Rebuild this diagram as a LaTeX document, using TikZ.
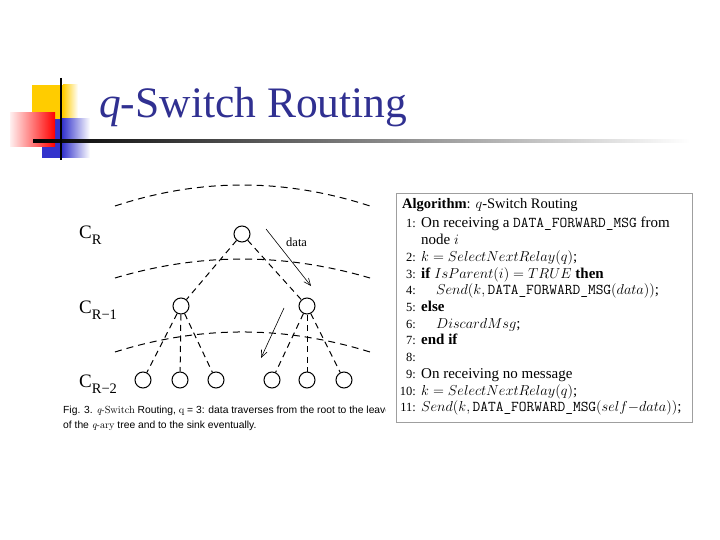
\documentclass[tikz,border=0pt]{standalone}
\usepackage{amsmath}
\usepackage{fontspec}
\newfontfamily\titlefont{Liberation Serif}
\newfontfamily\capfont{Liberation Sans}
\usepackage{tikz}
\usetikzlibrary{positioning,arrows.meta}
\definecolor{titleblue}{RGB}{48,48,145}
\definecolor{decoyellow}{RGB}{255,204,0}
\definecolor{decoblue}{RGB}{51,51,204}

\begin{document}
\begin{tikzpicture}[
    x=1pt, y=-1pt,
    >={Straight Barb[length=7pt,width=6pt]},
    vertex/.style={
        circle,
        draw=black,
        line width=1pt,
        minimum size=16pt,
        inner sep=0pt
    },
    edge/.style={
        line width=1pt,
        dash pattern=on 6pt off 4.5pt
    },
    level/.style={
        line width=1pt,
        dash pattern=on 7pt off 5pt
    },
    flow/.style={->, line width=0.6pt},
    cname/.style={anchor=base west, inner sep=0pt, font=\titlefont\fontsize{19}{19}\selectfont},
    algtext/.style={anchor=base west, inner sep=0pt, font=\titlefont\fontsize{15}{16}\selectfont},
    algnum/.style={anchor=base east, inner sep=0pt, font=\titlefont\fontsize{12.5}{13}\selectfont}
]
\useasboundingbox (0,0) rectangle (720,540);

% slide title with its decoration
\fill[decoyellow] (32,85) rectangle (63,120);
\shade[left color=decoyellow, right color=white] (63,85) rectangle (78,120);
\fill[decoblue] (42,119) rectangle (62,158);
\shade[left color=decoblue, right color=white] (62,119) rectangle (90,158);
\shade[left color=red!6, right color=red] (10,113) rectangle (55,147);
\shade[left color=black, middle color=gray!55, right color=white] (33,139.8) rectangle (690,142.2);
\draw[line width=2.4pt] (61,78) -- (61,160);
\node[anchor=base west, inner sep=0pt, text=titleblue,
      font=\titlefont\fontsize{43.5}{44}\selectfont] (title) at (99,118) {\textit{q}-Switch Routing};

% the three layers
\draw[level] (115,206) .. controls (200,178) and (284,178) .. (370,206);
\draw[level] (115,278) .. controls (200,252.7) and (284,252.7) .. (370,278);
\draw[level] (115,352) .. controls (200,325.3) and (284,325.3) .. (370,352);

\node[cname] (cR)  at (79,238) {C\raisebox{-6pt}{\fontsize{14.5}{14.5}\selectfont R}};
\node[cname] (cR1) at (79,313) {C\raisebox{-6pt}{\fontsize{14.5}{14.5}\selectfont R−1}};
\node[cname] (cR2) at (79,387) {C\raisebox{-6pt}{\fontsize{14.5}{14.5}\selectfont R−2}};

% the q-ary tree
\node[vertex] (root) at (242,234) {};
\node[vertex] (left) at (181,306) {};
\node[vertex] (right) at (307,306) {};
\node[vertex] (leafa) at (143,380) {};
\node[vertex] (leafb) at (180,380) {};
\node[vertex] (leafc) at (216,380) {};
\node[vertex] (leafd) at (272,380) {};
\node[vertex] (leafe) at (307,380) {};
\node[vertex] (leaff) at (344,380) {};

\draw[edge] (root) -- (left);
\draw[edge] (root) -- (right);
\draw[edge] (left) -- (leafa);
\draw[edge] (left) -- (leafb);
\draw[edge] (left) -- (leafc);
\draw[edge] (right) -- (leafd);
\draw[edge] (right) -- (leafe);
\draw[edge] (right) -- (leaff);

% data going down
\coordinate (dataA) at (266,229);
\coordinate (dataB) at (311,286);
\coordinate (dataC) at (284,308);
\coordinate (dataD) at (261,358);
\draw[flow] (dataA) -- (dataB);
\draw[flow] (dataC) -- (dataD);
\node[anchor=base west, inner sep=0pt, font=\titlefont\fontsize{12.5}{12.5}\selectfont] (data) at (286,246) {data};

% caption, cut by the algorithm box
\begin{scope}
\clip (55,398) rectangle (385,440);
\node[anchor=base west, inner sep=0pt, font=\capfont\fontsize{10.3}{10.3}\selectfont] (cap1) at (63,413)
    {Fig. 3. {\rmfamily\itshape q}{\rmfamily -Switch} Routing, {\rmfamily q} = 3: data traverses from the root to the leaves};
\node[anchor=base west, inner sep=0pt, font=\capfont\fontsize{10.3}{10.3}\selectfont] (cap2) at (63,428)
    {of the {\rmfamily\itshape q}{\rmfamily -ary} tree and to the sink eventually.};
\end{scope}

% algorithm box
\draw[gray!75, line width=0.8pt, fill=white] (396.5,193) rectangle (692,422);
\node[anchor=base west, inner sep=0pt, font=\titlefont\fontsize{14.5}{15}\selectfont] (head) at (402,208)
    {\textbf{Algorithm}: $q$-Switch Routing};

\foreach \k/\y in {1/228,2/261.4,3/278.1,4/294.8,5/311.5,6/328.2,7/344.9,8/361.6,9/378.3,10/395,11/411.7}
    \node[algnum] at (416,\y) {\k:};

\node[algtext] (a1)  at (421,228)   {On receiving a \texttt{DATA\_FORWARD\_MSG} from};
\node[algtext] (a1b) at (421,244.7) {node $i$};
\node[algtext] (a2)  at (421,261.4) {$k = SelectNextRelay(q)$;};
\node[algtext] (a3)  at (421,278.1) {\textbf{if} $IsParent(i) = TRUE$ \textbf{then}};
\node[algtext] (a4)  at (436,294.8) {$Send(k,\text{\texttt{DATA\_FORWARD\_MSG}}(data))$;};
\node[algtext] (a5)  at (421,311.5) {\textbf{else}};
\node[algtext] (a6)  at (436,328.2) {$DiscardMsg$;};
\node[algtext] (a7)  at (421,344.9) {\textbf{end if}};
\node[algtext] (a9)  at (421,378.3) {On receiving no message};
\node[algtext] (a10) at (421,395)   {$k = SelectNextRelay(q)$;};
\node[algtext] (a11) at (421,411.7) {$Send(k,\text{\texttt{DATA\_FORWARD\_MSG}}(self{-}data))$;};

\end{tikzpicture}
\end{document}
